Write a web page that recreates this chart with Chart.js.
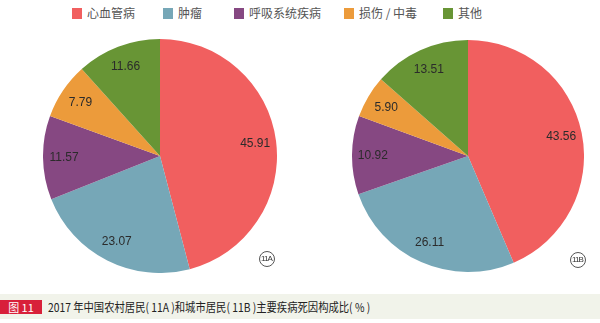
<!DOCTYPE html>
<html>
<head>
<meta charset="utf-8">
<script src="https://cdn.jsdelivr.net/npm/chart.js@4/dist/chart.umd.min.js"></script>
<style>
  body { margin: 0; width: 600px; height: 323px; background: #fff; position: relative; overflow: hidden;
         font-family: "Noto Sans CJK SC", "Liberation Sans", sans-serif; }
  #legend { position: absolute; top: 4px; left: 0; width: 600px; height: 18px; }
  .item { position: absolute; top: 0; font-size: 12px; color: #555; line-height: 18px; white-space: nowrap; }
  .item i { display: inline-block; width: 10px; height: 11px; vertical-align: -1px; margin-right: 5px; }
  canvas { position: absolute; }
  .tag { position: absolute; width: 14px; height: 14px; border: 1px solid #555; border-radius: 50%;
         font: 8px "Liberation Sans", Arial, sans-serif; letter-spacing: -0.8px; color: #333;
         text-align: center; line-height: 14px; text-indent: -1px; }
  #caption { position: absolute; left: 0; top: 294px; width: 600px; height: 25px; background: #f1f3ea; }
  #fig { position: absolute; left: 0; top: 6px; width: 42px; height: 14px; background: #d8203a; color: #fff;
         font-size: 11px; line-height: 14px; text-align: center; }
  #capText { position: absolute; left: 48px; top: 3px; font-size: 12px; line-height: 20px; color: #222; white-space: nowrap;
             transform: scaleX(0.86); transform-origin: 0 50%; }
</style>
</head>
<body>
<div id="legend"></div>
<canvas id="pieA" width="234" height="234" style="left:43px;top:39px"></canvas>
<canvas id="pieB" width="232" height="232" style="left:352px;top:40px"></canvas>
<div class="tag" style="left:259px;top:251px">11A</div>
<div class="tag" style="left:570px;top:252px">11B</div>
<div id="caption"><div id="fig">图 11</div><div id="capText">2017 年中国农村居民( 11A )和城市居民( 11B )主要疾病死因构成比( % )</div></div>
<script>
// Categories and values (%)
const categories = ['心血管病', '肿瘤', '呼吸系统疾病', '损伤 / 中毒', '其他'];
const ruralValues = [45.91, 23.07, 11.57, 7.79, 11.66];
const urbanValues = [43.56, 26.11, 10.92, 5.90, 13.51];
const colors = ['#f15f5f', '#76a7b7', '#864882', '#ec9b3b', '#689535'];
const legendX = [72, 163, 234, 344, 443];

// Build legend
const legend = document.getElementById('legend');
categories.forEach((name, i) => {
    const el = document.createElement('div');
    el.className = 'item';
    el.style.left = legendX[i] + 'px';
    el.innerHTML = `<i style="background:${colors[i]}"></i>${name}`;
    legend.appendChild(el);
});

// Draw value labels inside slices
const sliceLabels = {
    id: 'sliceLabels',
    afterDatasetsDraw(chart) {
        const ctx = chart.ctx;
        const meta = chart.getDatasetMeta(0);
        const values = chart.data.datasets[0].data;
        ctx.save();
        ctx.font = '12px "Liberation Sans", Arial, sans-serif';
        ctx.fillStyle = '#2b2b2b';
        ctx.textAlign = 'center';
        ctx.textBaseline = 'middle';
        meta.data.forEach((arc, i) => {
            const p = arc.getProps(['x', 'y', 'startAngle', 'endAngle', 'outerRadius'], true);
            const mid = (p.startAngle + p.endAngle) / 2;
            const r = p.outerRadius * 0.82;
            ctx.fillText(values[i].toFixed(2), p.x + Math.cos(mid) * r, p.y + Math.sin(mid) * r);
        });
        ctx.restore();
    }
};

function makePie(id, values) {
    return new Chart(document.getElementById(id), {
        type: 'pie',
        data: {
            labels: categories,
            datasets: [{ data: values, backgroundColor: colors, borderWidth: 0 }]
        },
        options: {
            responsive: false,
            animation: false,
            layout: { padding: 0 },
            plugins: { legend: { display: false }, tooltip: { enabled: false } }
        },
        plugins: [sliceLabels]
    });
}

makePie('pieA', ruralValues);
makePie('pieB', urbanValues);
</script>
</body>
</html>
